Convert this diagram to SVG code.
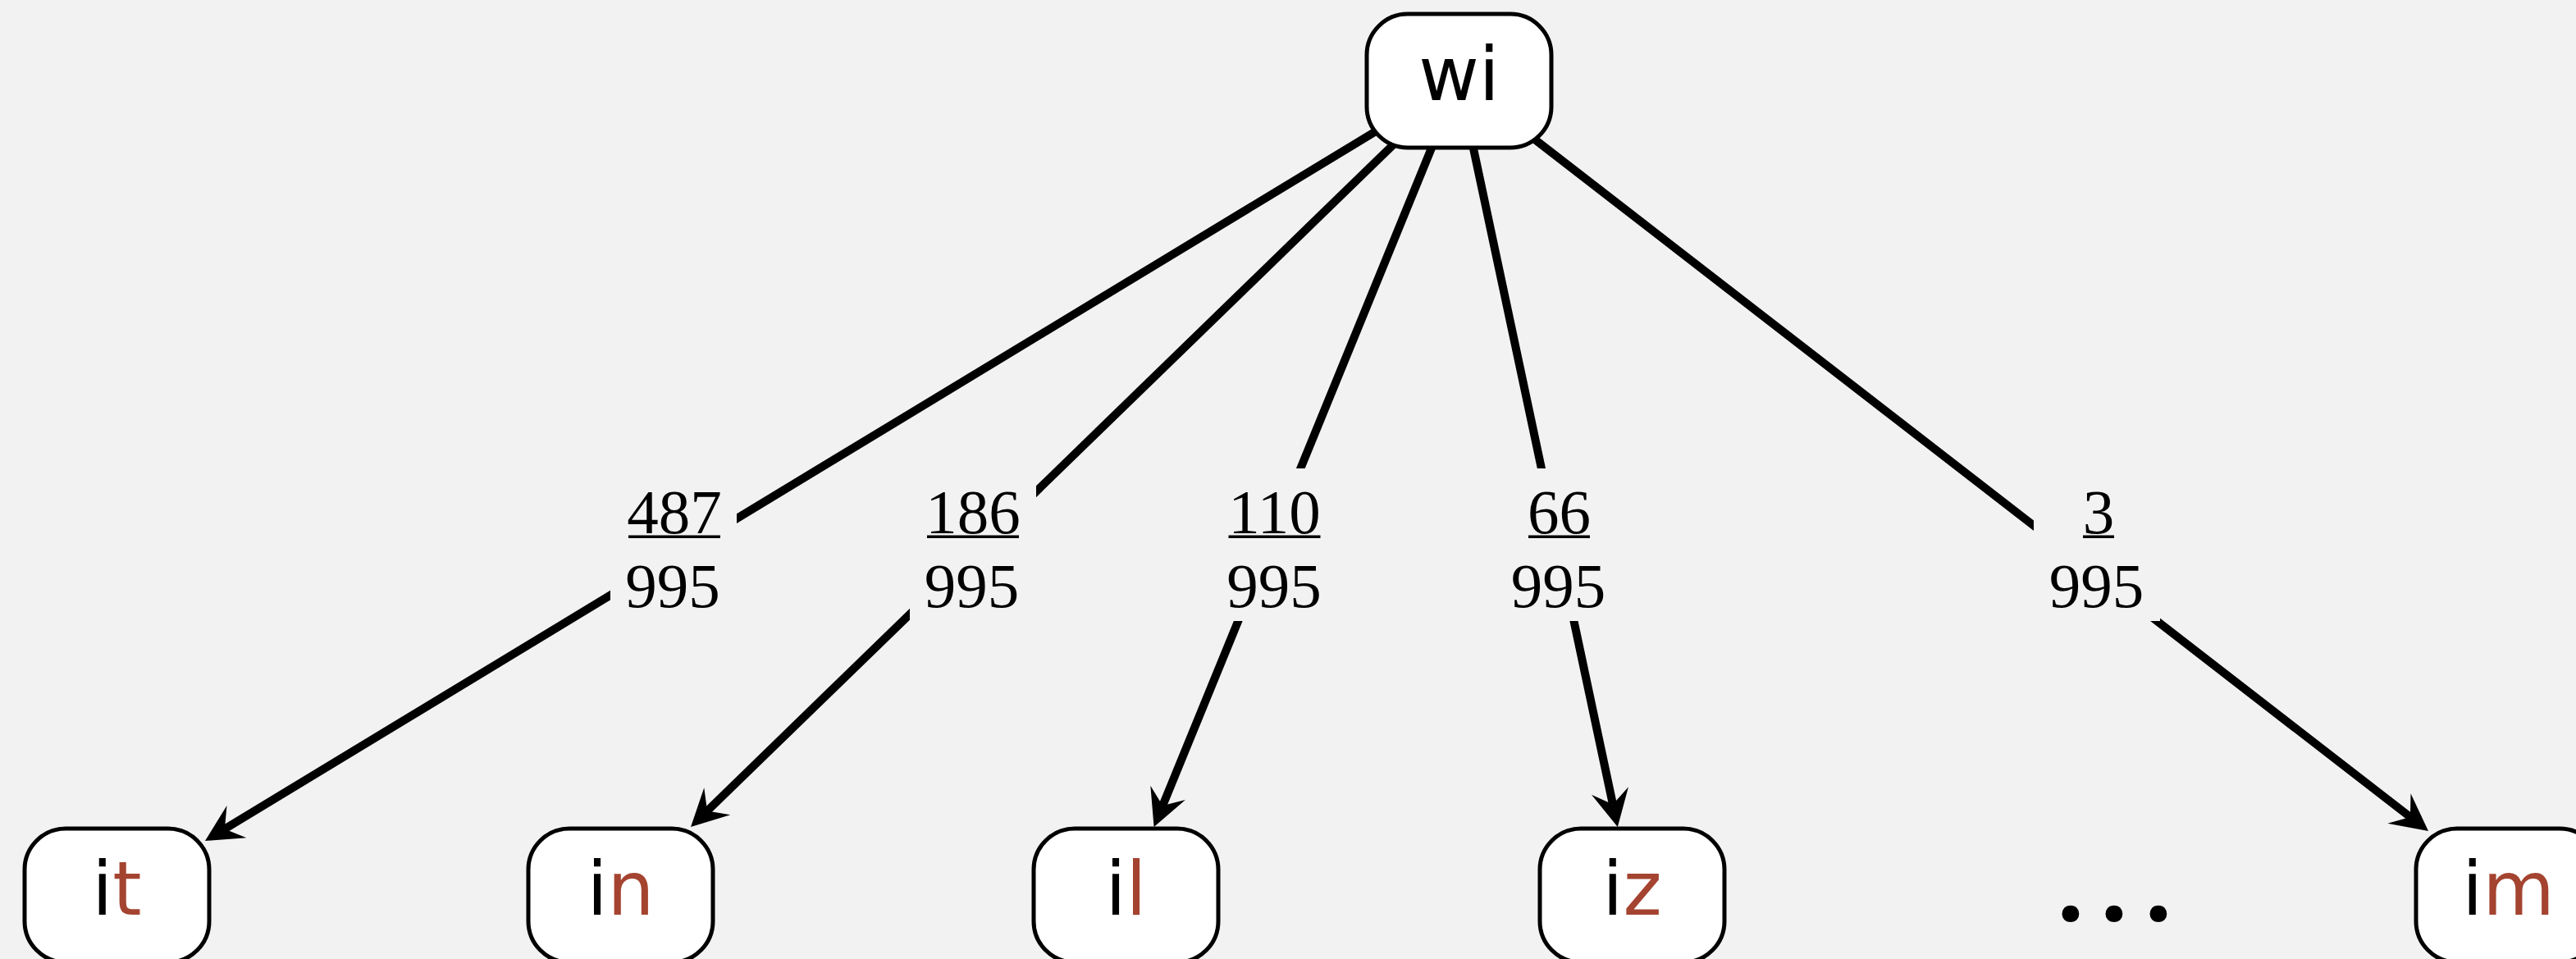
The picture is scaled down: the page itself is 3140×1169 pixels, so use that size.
<svg xmlns="http://www.w3.org/2000/svg" width="3140" height="1169" viewBox="0 0 3140 1169">
  <style>
    .bg { fill: #f2f2f2; }
    .box { fill: #ffffff; stroke: #000000; stroke-width: 5; }
    .lbl { font-family: "DejaVu Sans", "Liberation Sans", sans-serif; font-size: 90px; text-anchor: middle; fill: #000000; }
    .hl { fill: #a44430; }
    .edge { fill: none; stroke: #000000; stroke-width: 10; marker-end: url(#head); }
    .gap { fill: #f2f2f2; stroke: none; }
    .frac { font-family: "Liberation Serif", "Times New Roman", serif; font-size: 77px; text-anchor: middle; fill: #000000; }
    .bar { fill: #000000; }
    .dots { font-family: Roboto, "DejaVu Sans", sans-serif; font-size: 185px; text-anchor: middle; fill: #000000; }
  </style>
  <defs>
    <!-- notched arrowhead; the line stops at the notch, the tip sits 28 units ahead -->
    <marker id="head" markerUnits="userSpaceOnUse" orient="auto" refX="0" refY="0" markerWidth="100" markerHeight="100" viewBox="-50 -50 100 100" overflow="visible">
      <path d="M28,0 L-17,-23 L0,0 L-17,23 Z" fill="#000000"/>
    </marker>
  </defs>

  <rect class="bg" x="0" y="0" width="3140" height="1169"/>

  <!-- connectors from the root to each child -->
  <g id="connectors">
    <line class="edge" x1="1778.5" y1="98.5" x2="273.9" y2="1010.5"/>
    <line class="edge" x1="1778.5" y1="98.5" x2="862.1" y2="988.5"/>
    <line class="edge" x1="1778.5" y1="98.5" x2="1417.2" y2="982.1"/>
    <line class="edge" x1="1778.5" y1="98.5" x2="1966.0" y2="980.6"/>
    <line class="edge" x1="1778.5" y1="98.5" x2="2937.9" y2="995.9"/>
  </g>

  <!-- probability labels, each on a background patch that breaks its line -->
  <g id="edge-labels">
    <g id="label-it">
      <rect class="gap" x="744" y="571" width="154" height="186"/>
      <text class="frac" x="822" y="650">487</text>
      <rect class="bar" x="766" y="652.5" width="112" height="3.5"/>
      <text class="frac" x="820" y="740">995</text>
    </g>
    <g id="label-in">
      <rect class="gap" x="1109" y="571" width="154" height="186"/>
      <text class="frac" x="1186" y="650">186</text>
      <rect class="bar" x="1130" y="652.5" width="112" height="3.5"/>
      <text class="frac" x="1184.5" y="740">995</text>
    </g>
    <g id="label-il">
      <rect class="gap" x="1476" y="571" width="154" height="186"/>
      <text class="frac" x="1553.5" y="650">110</text>
      <rect class="bar" x="1497.5" y="652.5" width="112" height="3.5"/>
      <text class="frac" x="1553" y="740">995</text>
    </g>
    <g id="label-iz">
      <rect class="gap" x="1823" y="571" width="154" height="186"/>
      <text class="frac" x="1900.5" y="650">66</text>
      <rect class="bar" x="1863" y="652.5" width="75" height="3.5"/>
      <text class="frac" x="1899.5" y="740">995</text>
    </g>
    <g id="label-im">
      <rect class="gap" x="2479" y="571" width="154" height="186"/>
      <text class="frac" x="2558" y="650">3</text>
      <rect class="bar" x="2539" y="652.5" width="38" height="3.5"/>
      <text class="frac" x="2555.5" y="740">995</text>
    </g>
  </g>

  <!-- root node -->
  <g id="node-wi">
    <rect class="box" x="1666" y="17" width="225" height="163" rx="50" ry="50"/>
    <text class="lbl" x="1778.5" y="122">wi</text>
  </g>

  <!-- child nodes -->
  <g id="node-it">
    <rect class="box" x="30" y="1010" width="225" height="163" rx="50" ry="50"/>
    <text class="lbl" x="142.5" y="1115">i<tspan class="hl">t</tspan></text>
  </g>
  <g id="node-in">
    <rect class="box" x="644" y="1010" width="225" height="163" rx="50" ry="50"/>
    <text class="lbl" x="756.5" y="1115">i<tspan class="hl">n</tspan></text>
  </g>
  <g id="node-il">
    <rect class="box" x="1260" y="1010" width="225" height="163" rx="50" ry="50"/>
    <text class="lbl" x="1372.5" y="1115">i<tspan class="hl">l</tspan></text>
  </g>
  <g id="node-iz">
    <rect class="box" x="1877" y="1010" width="225" height="163" rx="50" ry="50"/>
    <text class="lbl" x="1989.5" y="1115">i<tspan class="hl">z</tspan></text>
  </g>
  <g id="node-ellipsis">
    <text class="dots" x="2525 2578 2632" y="1123">...</text>
  </g>
  <g id="node-im">
    <rect class="box" x="2945" y="1010" width="225" height="163" rx="50" ry="50"/>
    <text class="lbl" x="3057.5" y="1115">i<tspan class="hl">m</tspan></text>
  </g>
</svg>
